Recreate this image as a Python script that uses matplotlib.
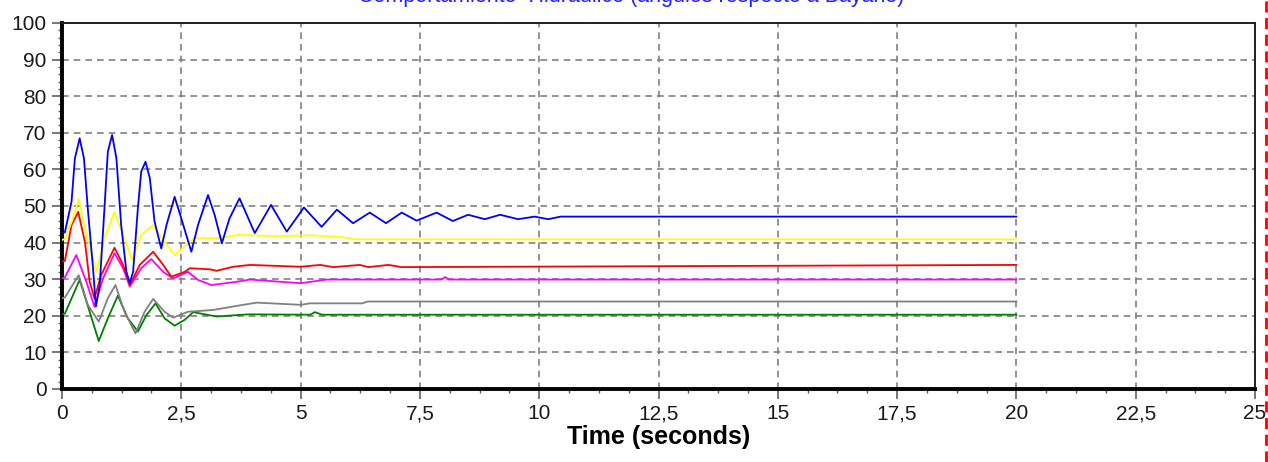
import matplotlib
matplotlib.use('Agg')
import matplotlib.pyplot as plt
from matplotlib.lines import Line2D
from matplotlib.ticker import MultipleLocator, FuncFormatter

matplotlib.rcParams['font.family'] = 'Liberation Sans'

# angle traces (degrees) against time (s)
blue_t = [0, 0.06, 0.20, 0.27, 0.37, 0.46, 0.54, 0.65, 0.71, 0.79, 0.89, 0.96, 1.05, 1.14,
          1.24, 1.35, 1.42, 1.49, 1.59, 1.66, 1.75, 1.84, 1.94, 2.08, 2.19, 2.36, 2.50, 2.71,
          2.85, 3.06, 3.20, 3.35, 3.51, 3.72, 4.04, 4.38, 4.71, 5.07, 5.44, 5.76, 6.10, 6.45,
          6.79, 7.12, 7.43, 7.85, 8.19, 8.51, 8.86, 9.18, 9.56, 9.9, 10.19, 10.45, 20]
blue_v = [42.5, 42.8, 51.2, 63, 68.5, 63, 49.4, 33, 22.5, 28.4, 49.4, 64.8, 69.4, 63,
          44.8, 32, 29, 32, 49.4, 59.4, 62.1, 57.6, 45.7, 38.4, 44.8, 52.5, 46.6, 37.5,
          44.8, 53, 47.5, 39.8, 46.6, 52.1, 42.6, 50.3, 43, 49.6, 44.3, 49, 45.3, 48.2,
          45.3, 48.2, 46, 48.2, 45.9, 47.6, 46.4, 47.6, 46.4, 47.1, 46.4, 47.1, 47.1]

yellow_t = [0, 0.06, 0.23, 0.35, 0.51, 0.72, 0.89, 1.10, 1.28, 1.47, 1.66, 1.91, 2.15, 2.36,
            2.60, 2.78, 3.24, 3.7, 4.5, 5.2, 5.83, 6.17, 20]
yellow_v = [40.7, 41, 46.6, 51.9, 42.1, 32, 41.2, 48.4, 42.1, 35.2, 42.1, 44.8, 40.2, 36.6,
            39.3, 41.2, 41.2, 42.1, 41.8, 42.0, 41.6, 40.9, 40.9]

red_t = [0, 0.06, 0.20, 0.34, 0.48, 0.58, 0.68, 0.82, 1.10, 1.28, 1.42, 1.63, 1.91, 2.12,
         2.29, 2.57, 2.68, 3.1, 3.24, 3.59, 3.94, 5.0, 5.41, 5.69, 6.24, 6.42, 6.84, 7.12, 20]
red_v = [34.8, 35, 44.8, 48.4, 40.2, 29.3, 24.8, 31.1, 38.6, 33.9, 28.4, 33.9, 37.5, 33.9,
         30.7, 32, 33, 32.7, 32.3, 33.4, 33.9, 33.4, 33.9, 33.3, 33.9, 33.3, 33.9, 33.3, 33.9]

magenta_t = [0, 0.06, 0.30, 0.51, 0.68, 0.86, 1.10, 1.28, 1.42, 1.66, 1.87, 2.12, 2.33, 2.64,
             2.85, 3.13, 3.66, 3.94, 5.0, 5.55, 7.95, 8.03, 8.11, 20]
magenta_v = [30.2, 30.5, 36.6, 29.3, 22.5, 30.2, 37.1, 33, 28, 33, 35.5, 32, 30.2, 32,
             29.8, 28.4, 29.3, 29.9, 28.9, 29.9, 29.9, 30.6, 29.9, 29.9]

gray_t = [0, 0.06, 0.35, 0.54, 0.77, 0.96, 1.12, 1.31, 1.54, 1.73, 1.91, 2.15, 2.33, 2.64,
          3.17, 3.66, 4.08, 5.0, 5.2, 6.3, 6.4, 7.19, 20]
gray_v = [24.8, 25, 31.1, 23, 18.4, 24.8, 28.4, 21.1, 15.2, 21.1, 24.6, 21.1, 19.5, 21.1,
          21.6, 22.7, 23.6, 23.0, 23.4, 23.4, 23.9, 23.9, 23.9]

green_t = [0, 0.06, 0.37, 0.58, 0.77, 0.96, 1.17, 1.38, 1.59, 1.77, 1.96, 2.15, 2.36, 2.57,
           2.75, 3.24, 3.9, 5.2, 5.3, 5.45, 20]
green_v = [20.4, 20.6, 29.8, 21.1, 13.1, 19.3, 25.5, 19.3, 15.7, 20.2, 23.4, 19.3, 17.3, 18.9,
           21, 19.8, 20.4, 20.3, 21.0, 20.3, 20.3]

series = [
  (green_t, green_v, '#008000'),
  (gray_t, gray_v, '#808080'),
  (magenta_t, magenta_v, '#ff00ff'),
  (red_t, red_v, '#ff0000'),
  (yellow_t, yellow_v, '#ffff00'),
  (blue_t, blue_v, '#0000ff'),
]

fig = plt.figure(figsize=(12.68, 4.62), dpi=100)
ax = fig.add_axes([62 / 1268, 1 - 389 / 462, (1255 - 62) / 1268, (389 - 23) / 462])

for t, v, c in series:
  ax.plot(t, v, color=c, linewidth=1.3, zorder=3)

ax.set_xlim(0, 25)
ax.set_ylim(0, 100)
ax.xaxis.set_major_locator(MultipleLocator(2.5))
ax.xaxis.set_minor_locator(MultipleLocator(0.625))
ax.yaxis.set_major_locator(MultipleLocator(10))
ax.yaxis.set_minor_locator(MultipleLocator(2))
ax.xaxis.set_major_formatter(FuncFormatter(lambda x, p: ('%g' % x).replace('.', ',')))

ax.grid(True, which='major', color='#808080', linestyle=(0, (4, 3)), linewidth=1.2)
ax.tick_params(which='major', direction='out', length=7, width=1.2, color='#606060',
               labelsize=15, pad=4, labelcolor='#1a1a1a')
ax.tick_params(which='minor', direction='out', length=3, width=1.0, color='#606060')

for pos in ['left', 'bottom']:
  ax.spines[pos].set_linewidth(2.8)
  ax.spines[pos].set_color('black')
for pos in ['top', 'right']:
  ax.spines[pos].set_linewidth(1.4)
  ax.spines[pos].set_color('#202020')

ax.set_xlabel('Time (seconds)', fontsize=18, fontweight='bold', labelpad=1)

fig.text(631 / 1268, 1 - 2 / 462, 'Comportamiento  Hidráulico (ángulos respecto a Bayano)',
         color='#2020ff', fontsize=15.5, ha='center', va='baseline')

# red dashed marker on the right edge
fig.add_artist(Line2D([1266 / 1268, 1266 / 1268], [0, 1], transform=fig.transFigure,
                      color='#ff0000', linewidth=2, linestyle=(0, (4, 2))))

plt.savefig('out.png', dpi=100)
